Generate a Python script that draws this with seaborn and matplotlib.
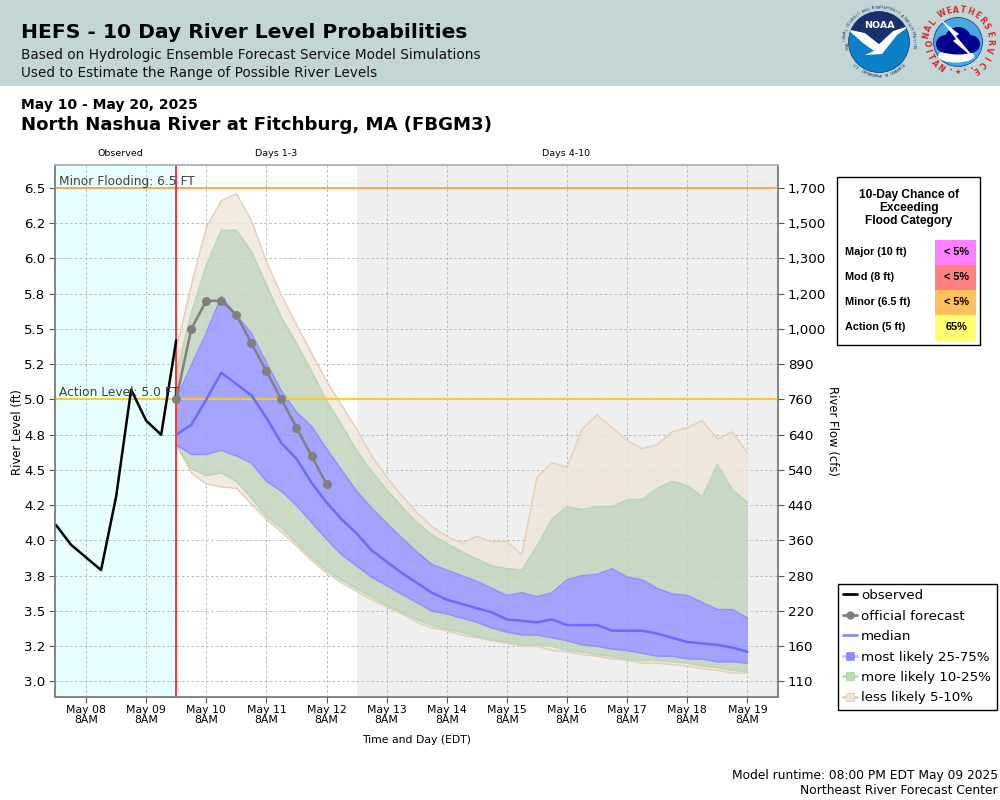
"""
HEFS 10 day river level probability chart for North Nashua River at Fitchburg
"""

import numpy as np
import pandas as pd
import seaborn as sns
import matplotlib.pyplot as plt
import matplotlib.dates as mdates
from matplotlib.lines import Line2D
from matplotlib.patches import Circle, Ellipse, Polygon, Rectangle

# river level values in ft, one value every 6 hours
OBSERVED = [4.11, 3.97, 3.88, 3.79, 4.31, 5.07, 4.85, 4.75, 5.42]
OFFICIAL = [5.0, 5.5, 5.7, 5.7, 5.6, 5.4, 5.2, 5.0, 4.8, 4.6, 4.4]
MEDIAN = [4.75, 4.82, 5.0, 5.19, 5.11, 5.03, 4.87, 4.69, 4.58, 4.41, 4.27, 4.15, 4.05, 3.93,
          3.85, 3.77, 3.70, 3.63, 3.58, 3.55, 3.52, 3.49, 3.44, 3.43, 3.42, 3.44, 3.40, 3.40,
          3.40, 3.36, 3.36, 3.36, 3.34, 3.31, 3.28, 3.27, 3.26, 3.24, 3.21]
P25 = [5.0, 5.24, 5.47, 5.73, 5.60, 5.47, 5.26, 5.06, 4.91, 4.81, 4.65, 4.50, 4.35, 4.23,
       4.12, 4.02, 3.92, 3.83, 3.79, 3.75, 3.71, 3.66, 3.61, 3.63, 3.60, 3.63, 3.72, 3.75,
       3.76, 3.80, 3.74, 3.72, 3.66, 3.62, 3.61, 3.56, 3.51, 3.51, 3.45]
P75 = [4.68, 4.61, 4.61, 4.64, 4.60, 4.55, 4.42, 4.35, 4.25, 4.13, 4.01, 3.90, 3.82, 3.74,
       3.68, 3.62, 3.56, 3.50, 3.48, 3.45, 3.42, 3.38, 3.35, 3.33, 3.33, 3.31, 3.29, 3.26,
       3.25, 3.23, 3.22, 3.20, 3.18, 3.18, 3.16, 3.16, 3.14, 3.14, 3.13]
P10 = [5.19, 5.61, 5.95, 6.20, 6.20, 6.05, 5.81, 5.58, 5.40, 5.20, 4.99, 4.82, 4.64, 4.49,
       4.36, 4.24, 4.13, 4.04, 3.98, 3.92, 3.87, 3.82, 3.80, 3.79, 3.96, 4.15, 4.24, 4.22,
       4.24, 4.24, 4.29, 4.29, 4.37, 4.42, 4.39, 4.31, 4.54, 4.36, 4.27]
P90 = [4.68, 4.51, 4.46, 4.48, 4.42, 4.30, 4.17, 4.09, 3.98, 3.88, 3.79, 3.72, 3.66, 3.60,
       3.54, 3.49, 3.44, 3.40, 3.37, 3.35, 3.32, 3.30, 3.28, 3.26, 3.26, 3.25, 3.22, 3.21,
       3.19, 3.18, 3.15, 3.15, 3.15, 3.14, 3.13, 3.11, 3.10, 3.08, 3.07]
P05 = [5.35, 5.81, 6.22, 6.41, 6.46, 6.27, 5.98, 5.74, 5.53, 5.33, 5.13, 4.96, 4.79, 4.60,
       4.45, 4.32, 4.20, 4.10, 4.03, 3.98, 4.03, 3.99, 3.99, 3.90, 4.45, 4.55, 4.52, 4.79,
       4.89, 4.80, 4.71, 4.65, 4.68, 4.77, 4.80, 4.85, 4.72, 4.77, 4.62]
P95 = [4.68, 4.48, 4.40, 4.38, 4.37, 4.26, 4.15, 4.06, 3.96, 3.86, 3.77, 3.70, 3.64, 3.58,
       3.53, 3.48, 3.42, 3.38, 3.36, 3.33, 3.31, 3.29, 3.27, 3.25, 3.25, 3.22, 3.21, 3.19,
       3.18, 3.16, 3.15, 3.13, 3.13, 3.12, 3.11, 3.09, 3.08, 3.06, 3.06]

LEVEL_TICKS = [6.5, 6.25, 6.0, 5.75, 5.5, 5.25, 5.0, 4.75, 4.5, 4.25, 4.0, 3.75, 3.5, 3.25, 3.0]
LEVEL_LABELS = ["6.5", "6.2", "6.0", "5.8", "5.5", "5.2", "5.0", "4.8", "4.5", "4.2", "4.0",
                "3.8", "3.5", "3.2", "3.0"]
FLOW_LABELS = ["1,700", "1,500", "1,300", "1,200", "1,000", "890", "760", "640", "540", "440",
               "360", "280", "220", "160", "110"]
FLOOD_NAMES = ["Major (10 ft)", "Mod (8 ft)", "Minor (6.5 ft)", "Action (5 ft)"]
FLOOD_CHANCE = ["< 5%", "< 5%", "< 5%", "65%"]
FLOOD_COLORS = ["#FF80FF", "#FF8080", "#FFC05C", "#FFFF70"]

FORECAST_START = pd.Timestamp("2025-05-09 20:00")
DAYS_4_START = pd.Timestamp("2025-05-12 20:00")
X_MIN = pd.Timestamp("2025-05-07 19:37")
X_MAX = pd.Timestamp("2025-05-19 20:12")
Y_MIN, Y_MAX = 2.89, 6.663

FONT_BOX = ["Liberation Sans", "DejaVu Sans"]
BLUE_FILL, GREEN_FILL, TAN_FILL = "#9696FF", "#C2D4BD", "#EFE6DA"
BLUE_EDGE, GREEN_EDGE, TAN_EDGE = "#9090FF", "#BAD5B4", "#E6CFB8"
RED_TEXT = "#D8262C"
NAVY = "#1B2F6E"


def ring_text(ax, text, cx, cy, r, start, end, **kwargs):
    # write text char by char along a circle, angles in degrees on the pixel canvas
    for ch, ang in zip(text, np.linspace(start, end, len(text))):
        rad = np.radians(ang)
        rot = ang - 90 if -90 <= ang <= 180 else ang + 90
        ax.text(cx + r * np.cos(rad), cy - r * np.sin(rad), ch, rotation=rot,
                ha="center", va="center", **kwargs)


def draw_noaa(ax, cx, cy):
    disc = Circle((cx, cy), 30.5, fc="#0A80C6", ec=NAVY, lw=0.5)
    ax.add_patch(disc)
    bird = Polygon([(cx - 32, cy - 13), (cx - 14, cy - 9), (cx, cy + 2), (cx + 14, cy - 11),
                    (cx + 32, cy - 17), (cx + 18, cy - 7), (cx + 3, cy + 12), (cx - 14, cy + 13),
                    (cx - 5, cy + 9), (cx - 16, cy + 1)], fc="white", ec="none")
    navy = Polygon([(cx - 32, cy - 32), (cx + 32, cy - 32), (cx + 32, cy - 17), (cx + 14, cy - 11),
                    (cx, cy + 2), (cx - 14, cy - 9), (cx - 32, cy - 13)], fc=NAVY, ec="none")
    ax.add_patch(bird)
    ax.add_patch(navy)
    bird.set_clip_path(disc)
    navy.set_clip_path(disc)
    ax.text(cx, cy - 16, "NOAA", color="white", fontsize=6.8, fontweight="bold",
            ha="center", va="center")
    ring_text(ax, "NATIONAL OCEANIC AND ATMOSPHERIC ADMINISTRATION", cx, cy, 34.5, 190, -8,
              fontsize=2.7, color=NAVY)
    ring_text(ax, "U.S. DEPARTMENT OF COMMERCE", cx, cy, 34.5, 222, 318, fontsize=2.7, color=NAVY)


def draw_nws(ax, cx, cy):
    ax.add_patch(Circle((cx, cy), 24.5, fc="#48A8DC", ec="#0A2A9A", lw=0.5))
    ax.add_patch(Ellipse((cx - 2, cy + 14), 36, 13, fc="white", ec="none"))
    for dx, dy, w, h in [(-12, 2, 20, 18), (0, -3, 26, 24), (12, 2, 20, 18), (0, 5, 42, 15)]:
        ax.add_patch(Ellipse((cx + dx, cy + dy), w, h, fc="#00008C", ec="none"))
    ax.add_patch(Polygon([(cx - 17, cy - 22), (cx + 1, cy - 8), (cx - 2, cy - 6), (cx + 18, cy + 18),
                          (cx - 5, cy - 1), (cx - 2, cy - 3)], fc="white", ec="none"))
    ring_text(ax, "NATIONAL", cx, cy, 32, 236, 142, fontsize=5.6, fontweight="bold", color=RED_TEXT)
    ring_text(ax, "WEATHER", cx, cy, 32, 119, 42, fontsize=5.6, fontweight="bold", color=RED_TEXT)
    ring_text(ax, "SERVICE", cx, cy, 32, 29, -58, fontsize=5.6, fontweight="bold", color=RED_TEXT)
    ax.text(cx, cy + 30, "★", color=RED_TEXT, fontsize=5, ha="center", va="center")
    for dx in (-14, -7, 7, 14):
        ax.add_patch(Circle((cx + dx, cy + 29 - abs(dx) * 0.2), 0.9, fc=RED_TEXT, ec="none"))


def level_frame(values, start):
    times = pd.date_range(start, periods=len(values), freq="6h")
    return pd.DataFrame({"time": times, "level": values})


sns.set_theme(style="ticks")
plt.rcParams["font.family"] = ["DejaVu Sans"]
plt.rcParams["text.color"] = "black"

fig = plt.figure(figsize=(10, 8), dpi=100, facecolor="white")
ax = fig.add_axes([0.055, 1 - 697 / 800, 0.723, (697 - 165) / 800])

# background zones
ax.axvspan(X_MIN, FORECAST_START, color="#E8FFFF", lw=0, zorder=0)
ax.axvspan(DAYS_4_START, X_MAX, color="#EFEFEF", lw=0, zorder=0)

ax.set_axisbelow(True)
ax.grid(True, color="#B8B8B8", ls=(0, (2.5, 2.5)), lw=0.7, zorder=1)

# probability bands
times = pd.date_range(FORECAST_START, periods=len(MEDIAN), freq="6h")
ax.fill_between(times, P10, P05, color=TAN_FILL, alpha=0.8, lw=0, zorder=2)
ax.fill_between(times, P95, P90, color=TAN_FILL, alpha=0.8, lw=0, zorder=2)
ax.fill_between(times, P25, P10, color=GREEN_FILL, alpha=0.85, lw=0, zorder=2)
ax.fill_between(times, P90, P75, color=GREEN_FILL, alpha=0.85, lw=0, zorder=2)
ax.fill_between(times, P75, P25, color=BLUE_FILL, alpha=0.85, lw=0, zorder=2)

for values, color in [(P05, TAN_EDGE), (P95, TAN_EDGE), (P10, GREEN_EDGE), (P90, GREEN_EDGE),
                      (P25, BLUE_EDGE), (P75, BLUE_EDGE)]:
    sns.lineplot(data=level_frame(values, FORECAST_START), x="time", y="level", ax=ax,
                 color=color, lw=1.1, zorder=3)

ax.axhline(6.5, color="#FFA544", lw=1.3, zorder=4)
ax.axhline(5.0, color="#FFCC11", lw=1.3, zorder=4)
ax.axvline(FORECAST_START, color="#FF2020", lw=1.3, zorder=4)

sns.lineplot(data=level_frame(MEDIAN, FORECAST_START), x="time", y="level", ax=ax,
             color="#6A6AFF", lw=1.8, zorder=5)
obs_start = FORECAST_START - pd.Timedelta(hours=6 * (len(OBSERVED) - 1))
sns.lineplot(data=level_frame(OBSERVED, obs_start), x="time", y="level", ax=ax,
             color="black", lw=1.8, zorder=6)
sns.lineplot(data=level_frame(OFFICIAL, FORECAST_START), x="time", y="level", ax=ax,
             color="#808080", lw=1.8, marker="o", ms=6.5, mew=0, zorder=7)

ax.text(0.005, 6.5 + 0.0, "Minor Flooding: 6.5 FT", transform=ax.get_yaxis_transform(),
        fontsize=8.8, color="#404040", va="bottom", zorder=8)
ax.text(0.005, 5.0 + 0.0, "Action Level: 5.0 FT", transform=ax.get_yaxis_transform(),
        fontsize=8.8, color="#404040", va="bottom", zorder=8)

# axes
ax.set_xlim(X_MIN, X_MAX)
ax.set_ylim(Y_MIN, Y_MAX)
ax.set_xlabel("")
ax.set_ylabel("")
ax.xaxis.set_major_locator(mdates.HourLocator(byhour=[8]))
ax.xaxis.set_major_formatter(mdates.DateFormatter("%b %d\n%-I%p"))
ax.tick_params(axis="x", labelsize=7.8, length=4, width=0.8, color="#555555", pad=2,
               labelcolor="black")
ax.set_yticks(LEVEL_TICKS, LEVEL_LABELS)
ax.tick_params(axis="y", labelsize=9.6, length=4, width=0.8, color="#555555", pad=3,
               labelcolor="black")
for label in ax.get_xticklabels():
    label.set_linespacing(1.0)

ax2 = ax.twinx()
ax2.set_ylim(Y_MIN, Y_MAX)
ax2.set_yticks(LEVEL_TICKS, FLOW_LABELS)
ax2.tick_params(axis="y", labelsize=9.6, length=4, width=0.8, color="#555555", pad=3,
                labelcolor="black")
ax2.grid(False)

for a in (ax, ax2):
    for side in ("left", "right", "bottom"):
        a.spines[side].set_color("#808080")
        a.spines[side].set_linewidth(1.1)
    a.spines["top"].set_color("#B4B4B4")
    a.spines["top"].set_linewidth(1.1)
    a.spines["top"].set_visible(True)

# everything outside the plot is placed on a pixel canvas
canvas = fig.add_axes([0, 0, 1, 1], zorder=2)
canvas.set_xlim(0, 1000)
canvas.set_ylim(800, 0)
canvas.axis("off")

canvas.add_patch(Rectangle((0, 0), 1000, 86, fc="#C2D7D5", ec="none"))
canvas.text(21, 33, "HEFS - 10 Day River Level Probabilities", fontsize=14.6, fontweight="bold",
            va="center")
canvas.text(21, 54.5, "Based on Hydrologic Ensemble Forecast Service Model Simulations", fontsize=9.85,
            va="center", color="#111111")
canvas.text(21, 73, "Used to Estimate the Range of Possible River Levels", fontsize=9.85,
            va="center", color="#111111")
canvas.text(21, 105, "May 10 - May 20, 2025", fontsize=10, fontweight="bold", va="center")
canvas.text(21, 125, "North Nashua River at Fitchburg, MA (FBGM3)", fontsize=13.08,
            fontweight="bold", va="center")

draw_noaa(canvas, 879, 42)
draw_nws(canvas, 958, 42)

canvas.text(120, 153, "Observed", fontsize=6.8, ha="center", va="center")
canvas.text(276, 153, "Days 1-3", fontsize=6.8, ha="center", va="center")
canvas.text(566, 153, "Days 4-10", fontsize=6.8, ha="center", va="center")
canvas.text(18, 432, "River Level (ft)", fontsize=8.4, rotation=90, ha="center", va="center")
canvas.text(832, 431, "River Flow (cfs)", fontsize=8.4, rotation=-90, ha="center", va="center")
canvas.text(417, 740, "Time and Day (EDT)", fontsize=7.8, ha="center", va="center")
canvas.text(998, 775, "Model runtime: 08:00 PM EDT May 09 2025", fontsize=8.85, ha="right", va="center")
canvas.text(998, 791, "Northeast River Forecast Center", fontsize=8.85, ha="right", va="center")

# flood category box
canvas.add_patch(Rectangle((836.5, 176.5), 143.5, 168.5, fc="white", ec="black", lw=1))
for i, line in enumerate(["10-Day Chance of", "Exceeding", "Flood Category"]):
    canvas.text(909, 195 + 13 * i, line, family=FONT_BOX, fontsize=8.6, fontweight="bold",
                ha="center", va="center")
for i, name in enumerate(FLOOD_NAMES):
    y = 240 + 25 * i
    canvas.add_patch(Rectangle((935, y), 41, 25.5, fc=FLOOD_COLORS[i], ec="none"))
    canvas.text(845, y + 12, name, family=FONT_BOX, fontsize=7.8, fontweight="bold", va="center")
    canvas.text(956, y + 12, FLOOD_CHANCE[i], family=FONT_BOX, fontsize=7.8, fontweight="bold",
                ha="center", va="center")

# legend
handles = [
    Line2D([], [], color="black", lw=2),
    Line2D([], [], color="#808080", lw=2, marker="o", ms=6, mew=0),
    Line2D([], [], color="#8A8AFF", lw=2),
    Line2D([], [], color="#C4C4FF", lw=2, marker="s", ms=6, mew=0.5, mfc="#8A8AFF", mec="#8A8AFF"),
    Line2D([], [], color="#BCDDB4", lw=2, marker="s", ms=6, mew=0.5, mfc="#BCDDB4", mec="#A8CDA0"),
    Line2D([], [], color="#E6CFB8", lw=2, marker="s", ms=6, mew=0.5, mfc="#F0E6DA", mec="#E0C8B0"),
]
names = ["observed", "official forecast", "median", "most likely 25-75%", "more likely 10-25%",
         "less likely 5-10%"]
leg = fig.legend(handles, names, loc="upper left", bbox_to_anchor=(0.8375, 1 - 583.5 / 800),
                 fontsize=9.6, frameon=True, fancybox=False, edgecolor="black", framealpha=1,
                 borderpad=0.42, labelspacing=0.56, handlelength=1.05, handletextpad=0.3,
                 borderaxespad=0)
leg.set_zorder(5)
leg.get_frame().set_linewidth(1)

fig.savefig("out.png", dpi=100)
